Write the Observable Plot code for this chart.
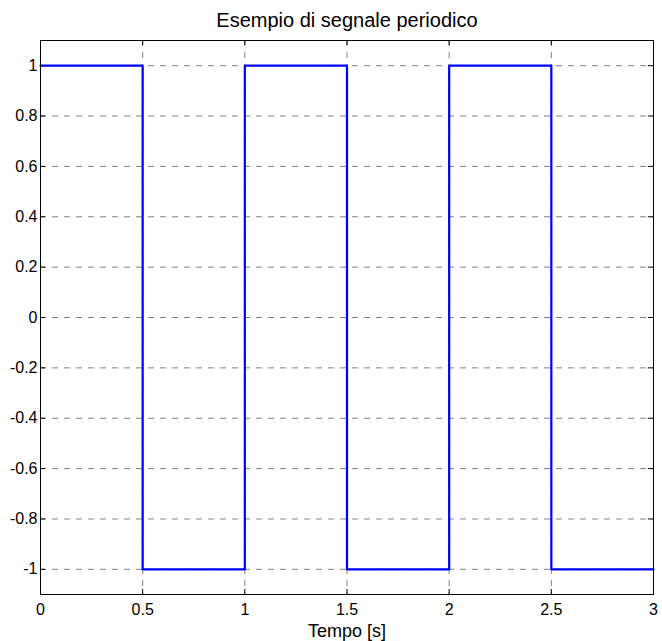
<!DOCTYPE html>
<html>
<head>
<meta charset="utf-8">
<script src="https://cdn.jsdelivr.net/npm/d3@7"></script>
<script src="https://cdn.jsdelivr.net/npm/@observablehq/plot@0.6"></script>
<style>
  html, body { margin: 0; padding: 0; background: #fff; }
</style>
</head>
<body>
<div id="chart"></div>
<script>
// Step signal: value holds from each time until the next
const times = [0, 0.5, 1, 1.5, 2, 2.5, 3];
const values = [1, -1, 1, -1, 1, -1, -1];
const xTicks = [0, 0.5, 1, 1.5, 2, 2.5, 3];
const yTicks = [-1, -0.8, -0.6, -0.4, -0.2, 0, 0.2, 0.4, 0.6, 0.8, 1];
const title = "Esempio di segnale periodico";
const xLabel = "Tempo [s]";

const data = times.map((t, i) => ({t, v: values[i]}));
const innerX = xTicks.filter(d => d > 0 && d < 3);

const chart = Plot.plot({
  width: 662,
  height: 641,
  marginLeft: 40,
  marginRight: 9,
  marginTop: 40,
  marginBottom: 47,
  style: {fontFamily: "Liberation Sans, Arial, sans-serif", fontSize: "16px", background: "#fff", color: "#000"},
  x: {domain: [0, 3], ticks: xTicks, tickFormat: d => String(d)},
  y: {domain: [-1.1, 1.1], ticks: yTicks, tickFormat: d => String(d)},
  marks: [
    Plot.ruleX(innerX, {stroke: "#808080", strokeDasharray: "6,6", strokeWidth: 1}),
    Plot.ruleY(yTicks, {stroke: "#808080", strokeDasharray: "6,6", strokeWidth: 1}),
    // inside tick marks (MATLAB style)
    Plot.ruleX(innerX, {y1: -1.1, y2: -1.08, stroke: "#000"}),
    Plot.ruleX(innerX, {y1: 1.1, y2: 1.08, stroke: "#000"}),
    Plot.ruleY(yTicks, {x1: 0, x2: 0.025, stroke: "#000"}),
    Plot.ruleY(yTicks, {x1: 3, x2: 2.975, stroke: "#000"}),
    Plot.line(data, {x: "t", y: "v", curve: "step-after", stroke: "#0000ff", strokeWidth: 2.2}),
    Plot.frame({stroke: "#000", strokeWidth: 1}),
    Plot.axisX({ticks: xTicks, tickSize: 0, tickPadding: 9, tickFormat: d => String(d), label: null, fontSize: 16}),
    Plot.axisY({ticks: yTicks, tickSize: 0, tickPadding: 3, tickFormat: d => String(d), label: null, fontSize: 16}),
    Plot.text([title], {frameAnchor: "top", dy: -20, lineAnchor: "middle", fontSize: 20, fill: "#000"}),
    Plot.text([xLabel], {frameAnchor: "bottom", dy: 37, lineAnchor: "middle", fontSize: 18, fill: "#000"})
  ]
});
document.getElementById("chart").appendChild(chart);
</script>
</body>
</html>
